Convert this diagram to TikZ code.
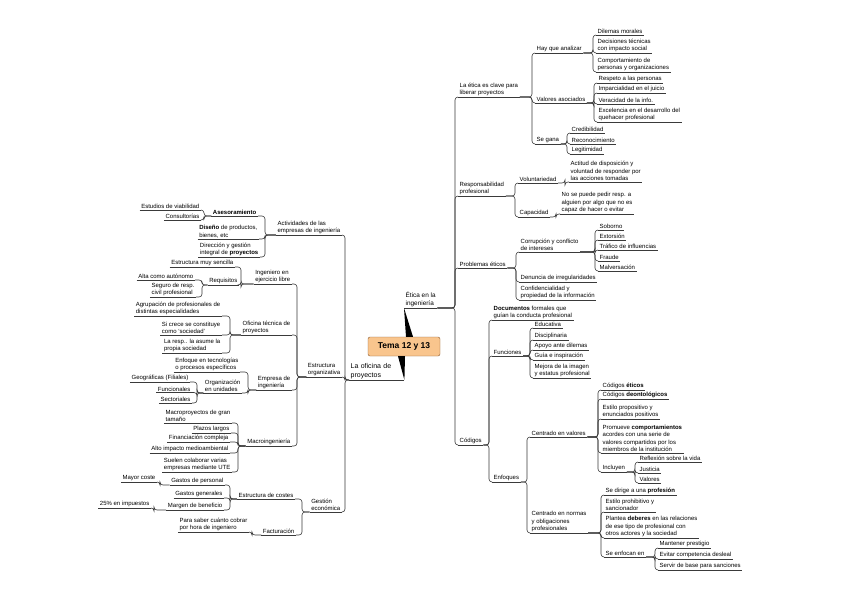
\documentclass[tikz,border=0pt]{standalone}
\usepackage{fontspec}
\setmainfont{Liberation Sans}
\definecolor{temafill}{HTML}{F9C58D}
\definecolor{temaborde}{HTML}{8A5A2E}
\definecolor{linea}{HTML}{3A3A3A}
\begin{document}
\begin{tikzpicture}[x=1pt, y=-1pt,
                uline/.style={draw=linea, line width=0.6pt},
                link/.style={draw=linea, line width=0.6pt, rounded corners=3pt},
                txt/.style={font=\fontsize{6}{7.5}\selectfont, inner xsep=1.5pt, inner ysep=1pt, align=left,
                    append after command={(\tikzlastnode.south west) edge[uline] (\tikzlastnode.south east)}},
                rnode/.style={txt, anchor=south west},
                lnode/.style={txt, anchor=south east}
            ]
            \useasboundingbox (0,0) rectangle (848,599);

            % Central topic
            \node[draw=temaborde, fill=temafill, rounded corners=2pt, minimum width=72pt, minimum height=19pt,
                  font=\bfseries\fontsize{8.5}{10}\selectfont] (tema) at (404,346.5) {Tema 12 y 13};
            \node[rnode, font=\fontsize{6.4}{7.6}\selectfont] (etica) at (404,308) {Ética en la\\ingeniería};
            \node[rnode, font=\fontsize{7}{8.4}\selectfont, text width=52pt] (ofic) at (349,380) {La oficina de\\proyectos};
            \fill[black] (etica.south west) -- ([xshift=2pt]tema.north) -- ([xshift=9pt]tema.north) -- cycle;
            \fill[black] (ofic.south east) -- ([xshift=-6pt]tema.south) -- ([xshift=1pt]tema.south) -- cycle;

            % Right: Etica en la ingenieria
            \node[rnode] (ecla) at (458,97) {La ética es clave para\\liberar proyectos};
            \node[rnode] (resp) at (458,196) {Responsabilidad\\profesional};
            \node[rnode] (prob) at (458,268) {Problemas éticos};
            \node[rnode] (cod) at (458,445) {Códigos};
            \foreach \c in {ecla,resp,prob,cod}
                \draw[link] (etica.south east) -- (etica.south east -| 455,0) |- (\c.south west);

            % La etica es clave
            \node[rnode] (hay) at (535,53) {Hay que analizar};
            \node[rnode] (valo) at (535,103) {Valores asociados};
            \node[rnode] (gana) at (535,144) {Se gana};
            \foreach \c in {hay,valo,gana}
                \draw[link] (ecla.south east) -- (ecla.south east -| 532,0) |- (\c.south west);

            \node[rnode] (dil) at (596,35) {Dilemas morales};
            \node[rnode] (dec) at (596,53) {Decisiones técnicas\\con impacto social};
            \node[rnode] (comp) at (596,72) {Comportamiento de\\personas y organizaciones};
            \foreach \c in {dil,dec,comp}
                \draw[link] (hay.south east) -- (hay.south east -| 593,0) |- (\c.south west);

            \node[rnode] (resper) at (597,83) {Respeto a las personas};
            \node[rnode] (impa) at (597,93) {Imparcialidad en el juicio};
            \node[rnode] (vera) at (597,104) {Veracidad de la info.};
            \node[rnode] (exce) at (597,122) {Excelencia en el desarrollo del\\quehacer profesional};
            \foreach \c in {resper,impa,vera,exce}
                \draw[link] (valo.south east) -- (valo.south east -| 594,0) |- (\c.south west);

            \node[rnode] (cred) at (570,133) {Credibilidad};
            \node[rnode] (reco) at (570,144) {Reconocimiento};
            \node[rnode] (legi) at (570,154) {Legitimidad};
            \foreach \c in {cred,reco,legi}
                \draw[link] (gana.south east) -- (gana.south east -| 567,0) |- (\c.south west);

            % Responsabilidad profesional
            \node[rnode] (volu) at (518,183) {Voluntariedad};
            \node[rnode] (capa) at (518,217) {Capacidad};
            \foreach \c in {volu,capa}
                \draw[link] (resp.south east) -- (resp.south east -| 515,0) |- (\c.south west);
            \node[rnode] (acti) at (569,182) {Actitud de disposición y\\voluntad de responder por\\las acciones tomadas};
            \node[rnode] (nose) at (560,214) {No se puede pedir resp. a\\alguien por algo que no es\\capaz de hacer o evitar};
            \draw[link] (volu.south east) -- (volu.south east -| 565,0) |- (acti.south west);
            \draw[link] (capa.south east) -- (capa.south east -| 556,0) |- (nose.south west);

            % Problemas eticos
            \node[rnode] (corr) at (519,252) {Corrupción y conflicto\\de intereses};
            \node[rnode] (denu) at (519,282) {Denuncia de irregularidades};
            \node[rnode] (conf) at (519,300) {Confidencialidad y\\propiedad de la información};
            \foreach \c in {corr,denu,conf}
                \draw[link] (prob.south east) -- (prob.south east -| 516,0) |- (\c.south west);

            \node[rnode] (sobo) at (598,230) {Soborno};
            \node[rnode] (exto) at (598,240) {Extorsión};
            \node[rnode] (traf) at (598,250) {Tráfico de influencias};
            \node[rnode] (frau) at (598,261) {Fraude};
            \node[rnode] (malv) at (598,271) {Malversación};
            \foreach \c in {sobo,exto,traf,frau,malv}
                \draw[link] (corr.south east) -- (corr.south east -| 595,0) |- (\c.south west);

            % Codigos
            \node[rnode] (docu) at (492,320) {\textbf{Documentos} formales que\\guían la conducta profesional};
            \node[rnode] (func) at (492,356) {Funciones};
            \node[rnode] (enfo) at (492,482) {Enfoques};
            \foreach \c in {docu,func,enfo}
                \draw[link] (cod.south east) -- (cod.south east -| 489,0) |- (\c.south west);

            \node[rnode] (educ) at (533,328) {Educativa};
            \node[rnode] (disc) at (533,340) {Disciplinaria};
            \node[rnode] (apoy) at (533,350) {Apoyo ante dilemas};
            \node[rnode] (guia) at (533,360) {Guía e inspiración};
            \node[rnode] (mejo) at (533,378) {Mejora de la imagen\\y estatus profesional};
            \foreach \c in {educ,disc,apoy,guia,mejo}
                \draw[link] (func.south east) -- (func.south east -| 530,0) |- (\c.south west);

            \node[rnode] (cval) at (530,437) {Centrado en valores};
            \node[rnode] (cnor) at (530,533) {Centrado en normas\\y obligaciones\\profesionales};
            \foreach \c in {cval,cnor}
                \draw[link] (enfo.south east) -- (enfo.south east -| 527,0) |- (\c.south west);

            \node[rnode] (ceti) at (601,390) {Códigos \textbf{éticos}};
            \node[rnode] (cdeo) at (601,399) {Códigos \textbf{deontológicos}};
            \node[rnode] (esti) at (601,419) {Estilo propositivo y\\enunciados positivos};
            \node[rnode] (prom) at (601,453) {Promueve \textbf{comportamientos}\\acordes con una serie de\\valores compartidos por los\\miembros de la institución};
            \node[rnode] (incl) at (601,472) {Incluyen};
            \foreach \c in {ceti,cdeo,esti,prom,incl}
                \draw[link] (cval.south east) -- (cval.south east -| 598,0) |- (\c.south west);

            \node[rnode] (refl) at (638,462) {Reflexión sobre la vida};
            \node[rnode] (just) at (638,473) {Justicia};
            \node[rnode] (valr) at (638,483) {Valores};
            \foreach \c in {refl,just,valr}
                \draw[link] (incl.south east) -- (incl.south east -| 635,0) |- (\c.south west);

            \node[rnode] (sedi) at (604,495) {Se dirige a una \textbf{profesión}};
            \node[rnode] (proh) at (604,512) {Estilo prohibitivo y\\sancionador};
            \node[rnode] (plan) at (604,538) {Plantea \textbf{deberes} en las relaciones\\de ese tipo de profesional con\\otros actores y la sociedad};
            \node[rnode] (senf) at (604,557) {Se enfocan en};
            \foreach \c in {sedi,proh,plan,senf}
                \draw[link] (cnor.south east) -- (cnor.south east -| 601,0) |- (\c.south west);

            \node[rnode] (mant) at (658,548) {Mantener prestigio};
            \node[rnode] (evit) at (658,559) {Evitar competencia desleal};
            \node[rnode] (serv) at (658,570) {Servir de base para sanciones};
            \foreach \c in {mant,evit,serv}
                \draw[link] (senf.south east) -- (senf.south east -| 655,0) |- (\c.south west);

            % Left: La oficina de proyectos
            \node[lnode] (activ) at (342,235) {Actividades de las\\empresas de ingeniería};
            \node[lnode] (estr) at (342,377) {Estructura\\organizativa};
            \node[lnode] (gest) at (342,512) {Gestión\\económica};
            \foreach \c in {activ,estr,gest}
                \draw[link] (ofic.south west) -- (ofic.south west -| 345,0) |- (\c.south east);

            % Actividades
            \node[lnode] (ases) at (258,216) {\textbf{Asesoramiento}};
            \node[lnode] (dise) at (259,239) {\textbf{Diseño} de productos,\\bienes, etc};
            \node[lnode] (dire) at (260,257) {Dirección y gestión\\integral de \textbf{proyectos}};
            \foreach \c in {ases,dise,dire}
                \draw[link] (activ.south west) -- (activ.south west -| 265,0) |- (\c.south east);
            \node[lnode] (estu) at (201,210) {Estudios de viabilidad};
            \node[lnode] (cons) at (201,220) {Consultorías};
            \foreach \c in {estu,cons}
                \draw[link] (ases.south west) -- (ases.south west -| 204,0) |- (\c.south east);

            % Estructura organizativa
            \node[lnode] (inge) at (292,284) {Ingeniero en\\ejercicio libre};
            \node[lnode] (ofte) at (292,335) {Oficina técnica de\\proyectos};
            \node[lnode] (empr) at (292,390) {Empresa de\\ingeniería};
            \node[lnode] (macr) at (292,446) {Macroingeniería};
            \foreach \c in {inge,ofte,empr,macr}
                \draw[link] (estr.south west) -- (estr.south west -| 297,0) |- (\c.south east);

            \node[lnode] (estm) at (235,267) {Estructura muy sencilla};
            \node[lnode] (requ) at (239,285) {Requisitos};
            \foreach \c in {estm,requ}
                \draw[link] (inge.south west) -- (inge.south west -| 241,0) |- (\c.south east);
            \node[lnode] (alta) at (195,280) {Alta como autónomo};
            \node[lnode] (segu) at (196,297) {Seguro de resp.\\civil profesional};
            \foreach \c in {alta,segu}
                \draw[link] (requ.south west) -- (requ.south west -| 202,0) |- (\c.south east);

            \node[lnode] (agru) at (222,316) {Agrupación de profesionales de\\distintas especialidades};
            \node[lnode] (sicr) at (222,335) {Si crece se constituye\\como `sociedad'};
            \node[lnode] (lare) at (222,353) {La resp.. la asume la\\propia sociedad};
            \foreach \c in {agru,sicr,lare}
                \draw[link] (ofte.south west) -- (ofte.south west -| 230,0) |- (\c.south east);

            \node[lnode] (enfq) at (240,372) {Enfoque en tecnologías\\o procesos específicos};
            \node[lnode] (orga) at (242,393) {Organización\\en unidades};
            \foreach \c in {enfq,orga}
                \draw[link] (empr.south west) -- (empr.south west -| 248,0) |- (\c.south east);
            \node[lnode] (geog) at (190,382) {Geográficas (Filiales)};
            \node[lnode] (fcnl) at (192,392.5) {Funcionales};
            \node[lnode] (sect) at (192,403) {Sectoriales};
            \foreach \c in {geog,fcnl,sect}
                \draw[link] (orga.south west) -- (orga.south west -| 197,0) |- (\c.south east);

            \node[lnode] (mgra) at (232,423) {Macroproyectos de gran\\tamaño};
            \node[lnode] (plaz) at (231,433) {Plazos largos};
            \node[lnode] (fina) at (230,442) {Financiación compleja};
            \node[lnode] (alto) at (230,453) {Alto impacto medioambiental};
            \node[lnode] (suel) at (232,472) {Suelen colaborar varias\\empresas mediante UTE};
            \foreach \c in {mgra,plaz,fina,alto,suel}
                \draw[link] (macr.south west) -- (macr.south west -| 238,0) |- (\c.south east);

            % Gestion economica
            \node[lnode] (ecos) at (295,499) {Estructura de costes};
            \node[lnode] (fact) at (296,535) {Facturación};
            \foreach \c in {ecos,fact}
                \draw[link] (gest.south west) -- (gest.south west -| 302,0) |- (\c.south east);

            \node[lnode] (gper) at (225,485) {Gastos de personal};
            \node[lnode] (ggen) at (224,498) {Gastos generales};
            \node[lnode] (marg) at (224,510) {Margen de beneficio};
            \foreach \c in {gper,ggen,marg}
                \draw[link] (ecos.south west) -- (ecos.south west -| 230,0) |- (\c.south east);
            \node[lnode] (mayo) at (157,482) {Mayor coste};
            \node[lnode] (impu) at (151,508) {25\% en impuestos};
            \draw[link] (gper.south west) -- (gper.south west -| 160,0) |- (mayo.south east);
            \draw[link] (marg.south west) -- (marg.south west -| 154,0) |- (impu.south east);
            \node[lnode] (para) at (249,532) {Para saber cuánto cobrar\\por hora de ingeniero};
            \draw[link] (fact.south west) -- (fact.south west -| 252,0) |- (para.south east);

        \end{tikzpicture}
\end{document}
